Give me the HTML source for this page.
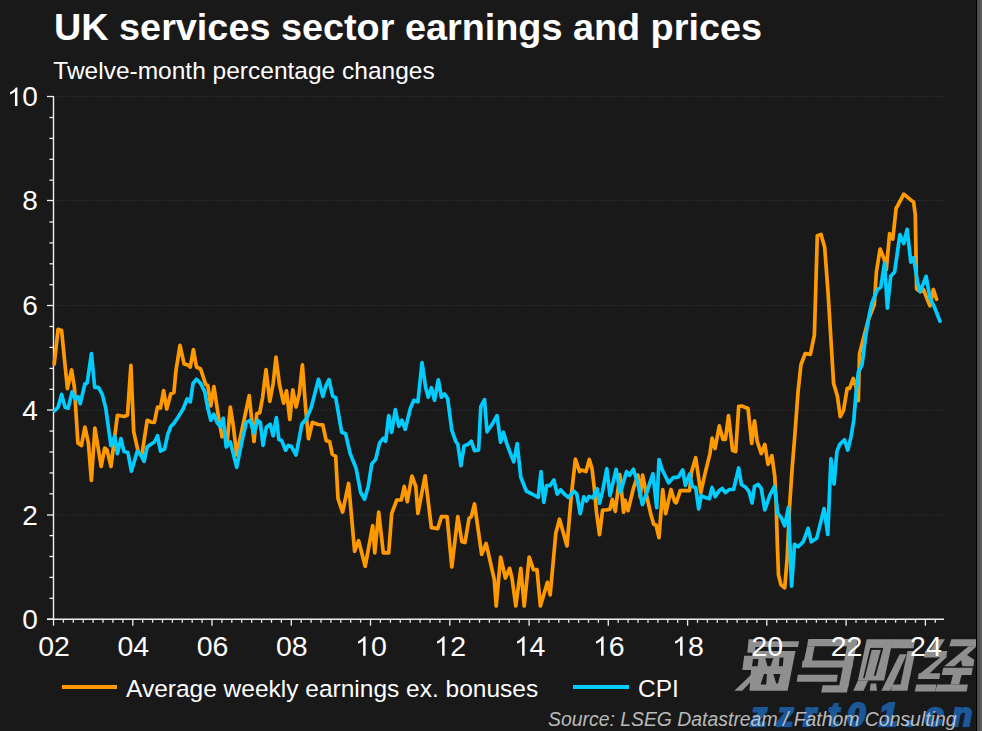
<!DOCTYPE html>
<html><head><meta charset="utf-8"><style>
html,body{margin:0;padding:0;}
body{width:982px;height:731px;background:#191919;position:relative;overflow:hidden;font-family:"Liberation Sans",sans-serif;color:#fff;}
.t{position:absolute;white-space:nowrap;}
#title{left:54px;top:3.8px;font-size:37.8px;font-weight:bold;line-height:46px;}
#sub{left:53.3px;top:56px;font-size:24.5px;line-height:30px;}
.yl{position:absolute;left:0;width:37.8px;text-align:right;font-size:28px;line-height:32px;}
.xl{position:absolute;top:629px;width:60px;text-align:center;font-size:28.5px;line-height:34px;}
svg.full{position:absolute;left:0;top:0;}
.one{width:0.556em;height:0.7324em;vertical-align:baseline;display:inline-block;}
.leg{position:absolute;font-size:24.5px;line-height:28px;top:674.8px;}
.sw{position:absolute;height:4px;top:684.5px;}
#src{position:absolute;left:548px;top:707px;font-size:19.4px;font-style:italic;color:#d4d4d4;line-height:24px;white-space:nowrap;opacity:0.86}
#edge{position:absolute;left:976px;top:0;width:1px;height:731px;background:#000;}
#strip{position:absolute;left:977px;top:0;width:5px;height:731px;background:linear-gradient(to right,#474747,#5f5f5f);}
</style></head><body>
<svg class="full" width="982" height="731">
<line x1="57" y1="515" x2="944" y2="515" stroke="#2e3838" stroke-width="1.2" stroke-dasharray="1.2 1.8"/><line x1="57" y1="410" x2="944" y2="410" stroke="#2e3838" stroke-width="1.2" stroke-dasharray="1.2 1.8"/><line x1="57" y1="305.5" x2="944" y2="305.5" stroke="#2e3838" stroke-width="1.2" stroke-dasharray="1.2 1.8"/><line x1="57" y1="200.5" x2="944" y2="200.5" stroke="#2e3838" stroke-width="1.2" stroke-dasharray="1.2 1.8"/><line x1="57" y1="96.5" x2="944" y2="96.5" stroke="#2e3838" stroke-width="1.2" stroke-dasharray="1.2 1.8"/><line x1="53.5" y1="96" x2="53.5" y2="620" stroke="#f0f0f0" stroke-width="1.4"/><line x1="47" y1="619.2" x2="53.5" y2="619.2" stroke="#f0f0f0" stroke-width="1.3"/><line x1="49.5" y1="598.3" x2="53.5" y2="598.3" stroke="#f0f0f0" stroke-width="1.3"/><line x1="49.5" y1="577.4" x2="53.5" y2="577.4" stroke="#f0f0f0" stroke-width="1.3"/><line x1="49.5" y1="556.5" x2="53.5" y2="556.5" stroke="#f0f0f0" stroke-width="1.3"/><line x1="49.5" y1="535.6" x2="53.5" y2="535.6" stroke="#f0f0f0" stroke-width="1.3"/><line x1="47" y1="515.0" x2="53.5" y2="515.0" stroke="#f0f0f0" stroke-width="1.3"/><line x1="49.5" y1="493.8" x2="53.5" y2="493.8" stroke="#f0f0f0" stroke-width="1.3"/><line x1="49.5" y1="472.9" x2="53.5" y2="472.9" stroke="#f0f0f0" stroke-width="1.3"/><line x1="49.5" y1="452.0" x2="53.5" y2="452.0" stroke="#f0f0f0" stroke-width="1.3"/><line x1="49.5" y1="431.1" x2="53.5" y2="431.1" stroke="#f0f0f0" stroke-width="1.3"/><line x1="47" y1="410.0" x2="53.5" y2="410.0" stroke="#f0f0f0" stroke-width="1.3"/><line x1="49.5" y1="389.3" x2="53.5" y2="389.3" stroke="#f0f0f0" stroke-width="1.3"/><line x1="49.5" y1="368.4" x2="53.5" y2="368.4" stroke="#f0f0f0" stroke-width="1.3"/><line x1="49.5" y1="347.4" x2="53.5" y2="347.4" stroke="#f0f0f0" stroke-width="1.3"/><line x1="49.5" y1="326.5" x2="53.5" y2="326.5" stroke="#f0f0f0" stroke-width="1.3"/><line x1="47" y1="305.5" x2="53.5" y2="305.5" stroke="#f0f0f0" stroke-width="1.3"/><line x1="49.5" y1="284.7" x2="53.5" y2="284.7" stroke="#f0f0f0" stroke-width="1.3"/><line x1="49.5" y1="263.8" x2="53.5" y2="263.8" stroke="#f0f0f0" stroke-width="1.3"/><line x1="49.5" y1="242.9" x2="53.5" y2="242.9" stroke="#f0f0f0" stroke-width="1.3"/><line x1="49.5" y1="222.0" x2="53.5" y2="222.0" stroke="#f0f0f0" stroke-width="1.3"/><line x1="47" y1="200.5" x2="53.5" y2="200.5" stroke="#f0f0f0" stroke-width="1.3"/><line x1="49.5" y1="180.2" x2="53.5" y2="180.2" stroke="#f0f0f0" stroke-width="1.3"/><line x1="49.5" y1="159.3" x2="53.5" y2="159.3" stroke="#f0f0f0" stroke-width="1.3"/><line x1="49.5" y1="138.4" x2="53.5" y2="138.4" stroke="#f0f0f0" stroke-width="1.3"/><line x1="49.5" y1="117.5" x2="53.5" y2="117.5" stroke="#f0f0f0" stroke-width="1.3"/><line x1="47" y1="96.5" x2="53.5" y2="96.5" stroke="#f0f0f0" stroke-width="1.3"/><line x1="47" y1="619.2" x2="944" y2="619.2" stroke="#f0f0f0" stroke-width="1.5"/><line x1="53.5" y1="619.2" x2="53.5" y2="625.7" stroke="#f0f0f0" stroke-width="1.3"/><line x1="63.4" y1="619.2" x2="63.4" y2="622.7" stroke="#f0f0f0" stroke-width="1.3"/><line x1="73.3" y1="619.2" x2="73.3" y2="622.7" stroke="#f0f0f0" stroke-width="1.3"/><line x1="83.2" y1="619.2" x2="83.2" y2="622.7" stroke="#f0f0f0" stroke-width="1.3"/><line x1="93.1" y1="619.2" x2="93.1" y2="622.7" stroke="#f0f0f0" stroke-width="1.3"/><line x1="103.0" y1="619.2" x2="103.0" y2="622.7" stroke="#f0f0f0" stroke-width="1.3"/><line x1="112.9" y1="619.2" x2="112.9" y2="622.7" stroke="#f0f0f0" stroke-width="1.3"/><line x1="122.9" y1="619.2" x2="122.9" y2="622.7" stroke="#f0f0f0" stroke-width="1.3"/><line x1="132.8" y1="619.2" x2="132.8" y2="625.7" stroke="#f0f0f0" stroke-width="1.3"/><line x1="142.7" y1="619.2" x2="142.7" y2="622.7" stroke="#f0f0f0" stroke-width="1.3"/><line x1="152.6" y1="619.2" x2="152.6" y2="622.7" stroke="#f0f0f0" stroke-width="1.3"/><line x1="162.5" y1="619.2" x2="162.5" y2="622.7" stroke="#f0f0f0" stroke-width="1.3"/><line x1="172.4" y1="619.2" x2="172.4" y2="622.7" stroke="#f0f0f0" stroke-width="1.3"/><line x1="182.3" y1="619.2" x2="182.3" y2="622.7" stroke="#f0f0f0" stroke-width="1.3"/><line x1="192.2" y1="619.2" x2="192.2" y2="622.7" stroke="#f0f0f0" stroke-width="1.3"/><line x1="202.1" y1="619.2" x2="202.1" y2="622.7" stroke="#f0f0f0" stroke-width="1.3"/><line x1="212.0" y1="619.2" x2="212.0" y2="625.7" stroke="#f0f0f0" stroke-width="1.3"/><line x1="221.9" y1="619.2" x2="221.9" y2="622.7" stroke="#f0f0f0" stroke-width="1.3"/><line x1="231.8" y1="619.2" x2="231.8" y2="622.7" stroke="#f0f0f0" stroke-width="1.3"/><line x1="241.7" y1="619.2" x2="241.7" y2="622.7" stroke="#f0f0f0" stroke-width="1.3"/><line x1="251.7" y1="619.2" x2="251.7" y2="622.7" stroke="#f0f0f0" stroke-width="1.3"/><line x1="261.6" y1="619.2" x2="261.6" y2="622.7" stroke="#f0f0f0" stroke-width="1.3"/><line x1="271.5" y1="619.2" x2="271.5" y2="622.7" stroke="#f0f0f0" stroke-width="1.3"/><line x1="281.4" y1="619.2" x2="281.4" y2="622.7" stroke="#f0f0f0" stroke-width="1.3"/><line x1="291.3" y1="619.2" x2="291.3" y2="625.7" stroke="#f0f0f0" stroke-width="1.3"/><line x1="301.2" y1="619.2" x2="301.2" y2="622.7" stroke="#f0f0f0" stroke-width="1.3"/><line x1="311.1" y1="619.2" x2="311.1" y2="622.7" stroke="#f0f0f0" stroke-width="1.3"/><line x1="321.0" y1="619.2" x2="321.0" y2="622.7" stroke="#f0f0f0" stroke-width="1.3"/><line x1="330.9" y1="619.2" x2="330.9" y2="622.7" stroke="#f0f0f0" stroke-width="1.3"/><line x1="340.8" y1="619.2" x2="340.8" y2="622.7" stroke="#f0f0f0" stroke-width="1.3"/><line x1="350.7" y1="619.2" x2="350.7" y2="622.7" stroke="#f0f0f0" stroke-width="1.3"/><line x1="360.6" y1="619.2" x2="360.6" y2="622.7" stroke="#f0f0f0" stroke-width="1.3"/><line x1="370.5" y1="619.2" x2="370.5" y2="625.7" stroke="#f0f0f0" stroke-width="1.3"/><line x1="380.4" y1="619.2" x2="380.4" y2="622.7" stroke="#f0f0f0" stroke-width="1.3"/><line x1="390.4" y1="619.2" x2="390.4" y2="622.7" stroke="#f0f0f0" stroke-width="1.3"/><line x1="400.3" y1="619.2" x2="400.3" y2="622.7" stroke="#f0f0f0" stroke-width="1.3"/><line x1="410.2" y1="619.2" x2="410.2" y2="622.7" stroke="#f0f0f0" stroke-width="1.3"/><line x1="420.1" y1="619.2" x2="420.1" y2="622.7" stroke="#f0f0f0" stroke-width="1.3"/><line x1="430.0" y1="619.2" x2="430.0" y2="622.7" stroke="#f0f0f0" stroke-width="1.3"/><line x1="439.9" y1="619.2" x2="439.9" y2="622.7" stroke="#f0f0f0" stroke-width="1.3"/><line x1="449.8" y1="619.2" x2="449.8" y2="625.7" stroke="#f0f0f0" stroke-width="1.3"/><line x1="459.7" y1="619.2" x2="459.7" y2="622.7" stroke="#f0f0f0" stroke-width="1.3"/><line x1="469.6" y1="619.2" x2="469.6" y2="622.7" stroke="#f0f0f0" stroke-width="1.3"/><line x1="479.5" y1="619.2" x2="479.5" y2="622.7" stroke="#f0f0f0" stroke-width="1.3"/><line x1="489.4" y1="619.2" x2="489.4" y2="622.7" stroke="#f0f0f0" stroke-width="1.3"/><line x1="499.3" y1="619.2" x2="499.3" y2="622.7" stroke="#f0f0f0" stroke-width="1.3"/><line x1="509.2" y1="619.2" x2="509.2" y2="622.7" stroke="#f0f0f0" stroke-width="1.3"/><line x1="519.2" y1="619.2" x2="519.2" y2="622.7" stroke="#f0f0f0" stroke-width="1.3"/><line x1="529.1" y1="619.2" x2="529.1" y2="625.7" stroke="#f0f0f0" stroke-width="1.3"/><line x1="539.0" y1="619.2" x2="539.0" y2="622.7" stroke="#f0f0f0" stroke-width="1.3"/><line x1="548.9" y1="619.2" x2="548.9" y2="622.7" stroke="#f0f0f0" stroke-width="1.3"/><line x1="558.8" y1="619.2" x2="558.8" y2="622.7" stroke="#f0f0f0" stroke-width="1.3"/><line x1="568.7" y1="619.2" x2="568.7" y2="622.7" stroke="#f0f0f0" stroke-width="1.3"/><line x1="578.6" y1="619.2" x2="578.6" y2="622.7" stroke="#f0f0f0" stroke-width="1.3"/><line x1="588.5" y1="619.2" x2="588.5" y2="622.7" stroke="#f0f0f0" stroke-width="1.3"/><line x1="598.4" y1="619.2" x2="598.4" y2="622.7" stroke="#f0f0f0" stroke-width="1.3"/><line x1="608.3" y1="619.2" x2="608.3" y2="625.7" stroke="#f0f0f0" stroke-width="1.3"/><line x1="618.2" y1="619.2" x2="618.2" y2="622.7" stroke="#f0f0f0" stroke-width="1.3"/><line x1="628.1" y1="619.2" x2="628.1" y2="622.7" stroke="#f0f0f0" stroke-width="1.3"/><line x1="638.0" y1="619.2" x2="638.0" y2="622.7" stroke="#f0f0f0" stroke-width="1.3"/><line x1="648.0" y1="619.2" x2="648.0" y2="622.7" stroke="#f0f0f0" stroke-width="1.3"/><line x1="657.9" y1="619.2" x2="657.9" y2="622.7" stroke="#f0f0f0" stroke-width="1.3"/><line x1="667.8" y1="619.2" x2="667.8" y2="622.7" stroke="#f0f0f0" stroke-width="1.3"/><line x1="677.7" y1="619.2" x2="677.7" y2="622.7" stroke="#f0f0f0" stroke-width="1.3"/><line x1="687.6" y1="619.2" x2="687.6" y2="625.7" stroke="#f0f0f0" stroke-width="1.3"/><line x1="697.5" y1="619.2" x2="697.5" y2="622.7" stroke="#f0f0f0" stroke-width="1.3"/><line x1="707.4" y1="619.2" x2="707.4" y2="622.7" stroke="#f0f0f0" stroke-width="1.3"/><line x1="717.3" y1="619.2" x2="717.3" y2="622.7" stroke="#f0f0f0" stroke-width="1.3"/><line x1="727.2" y1="619.2" x2="727.2" y2="622.7" stroke="#f0f0f0" stroke-width="1.3"/><line x1="737.1" y1="619.2" x2="737.1" y2="622.7" stroke="#f0f0f0" stroke-width="1.3"/><line x1="747.0" y1="619.2" x2="747.0" y2="622.7" stroke="#f0f0f0" stroke-width="1.3"/><line x1="756.9" y1="619.2" x2="756.9" y2="622.7" stroke="#f0f0f0" stroke-width="1.3"/><line x1="766.8" y1="619.2" x2="766.8" y2="625.7" stroke="#f0f0f0" stroke-width="1.3"/><line x1="776.7" y1="619.2" x2="776.7" y2="622.7" stroke="#f0f0f0" stroke-width="1.3"/><line x1="786.7" y1="619.2" x2="786.7" y2="622.7" stroke="#f0f0f0" stroke-width="1.3"/><line x1="796.6" y1="619.2" x2="796.6" y2="622.7" stroke="#f0f0f0" stroke-width="1.3"/><line x1="806.5" y1="619.2" x2="806.5" y2="622.7" stroke="#f0f0f0" stroke-width="1.3"/><line x1="816.4" y1="619.2" x2="816.4" y2="622.7" stroke="#f0f0f0" stroke-width="1.3"/><line x1="826.3" y1="619.2" x2="826.3" y2="622.7" stroke="#f0f0f0" stroke-width="1.3"/><line x1="836.2" y1="619.2" x2="836.2" y2="622.7" stroke="#f0f0f0" stroke-width="1.3"/><line x1="846.1" y1="619.2" x2="846.1" y2="625.7" stroke="#f0f0f0" stroke-width="1.3"/><line x1="856.0" y1="619.2" x2="856.0" y2="622.7" stroke="#f0f0f0" stroke-width="1.3"/><line x1="865.9" y1="619.2" x2="865.9" y2="622.7" stroke="#f0f0f0" stroke-width="1.3"/><line x1="875.8" y1="619.2" x2="875.8" y2="622.7" stroke="#f0f0f0" stroke-width="1.3"/><line x1="885.7" y1="619.2" x2="885.7" y2="622.7" stroke="#f0f0f0" stroke-width="1.3"/><line x1="895.6" y1="619.2" x2="895.6" y2="622.7" stroke="#f0f0f0" stroke-width="1.3"/><line x1="905.5" y1="619.2" x2="905.5" y2="622.7" stroke="#f0f0f0" stroke-width="1.3"/><line x1="915.5" y1="619.2" x2="915.5" y2="622.7" stroke="#f0f0f0" stroke-width="1.3"/><line x1="925.4" y1="619.2" x2="925.4" y2="625.7" stroke="#f0f0f0" stroke-width="1.3"/><line x1="935.3" y1="619.2" x2="935.3" y2="622.7" stroke="#f0f0f0" stroke-width="1.3"/><polyline points="54.2,364.0 58.1,329.3 61.6,330.5 67.4,388.6 71.6,370.0 74.4,387.4 77.9,443.0 81.4,445.6 84.9,427.0 88.4,443.0 91.4,480.5 94.9,428.0 101.2,466.5 104.7,448.0 107.0,450.0 111.0,466.5 117.4,415.3 124.4,416.5 127.5,415.0 130.9,365.3 133.7,431.6 138.4,452.6 141.9,455.0 147.2,420.3 151.0,422.0 154.4,422.4 157.5,407.0 160.5,408.0 163.6,390.6 166.7,409.0 170.8,393.7 173.9,392.6 175.9,371.0 180.0,345.4 184.1,363.9 188.0,365.0 190.3,367.0 193.4,349.5 196.5,367.0 200.6,369.0 205.7,384.4 207.8,385.4 210.8,406.0 213.9,386.5 219.0,420.3 222.1,436.8 225.2,432.7 227.3,440.9 230.3,407.0 233.4,426.5 236.7,455.0 243.0,425.0 249.2,395.6 254.0,441.5 256.8,413.8 259.7,412.8 262.6,397.5 266.0,369.7 269.8,401.3 273.1,384.0 276.0,357.2 279.4,384.0 283.6,403.2 286.5,390.8 289.8,419.5 292.8,389.8 296.1,407.0 299.3,393.6 302.4,364.9 305.7,409.0 308.5,438.7 312.4,422.4 318.1,424.5 322.8,424.8 326.2,440.6 329.6,441.5 332.3,454.3 335.7,456.4 338.0,498.6 342.6,512.1 348.6,483.5 354.6,551.3 358.6,540.7 365.2,566.3 372.7,525.7 374.8,552.8 378.7,512.1 383.3,552.8 388.7,552.8 391.7,513.6 396.8,500.0 401.3,500.0 404.3,486.5 407.3,501.6 411.9,476.0 415.8,486.5 417.9,513.5 425.1,475.8 431.4,527.7 437.7,528.6 441.4,516.7 447.1,516.7 451.8,567.0 457.8,516.7 461.9,541.8 465.0,542.5 469.1,518.2 471.3,516.7 474.5,504.0 481.7,554.4 486.1,543.4 494.3,579.6 496.2,606.0 500.6,557.0 505.4,578.0 509.6,568.3 512.0,578.0 515.8,606.0 520.8,568.3 524.2,606.0 529.2,557.0 533.4,569.7 537.0,569.7 540.4,606.0 547.4,582.3 550.2,594.9 555.8,533.2 559.5,519.2 567.0,545.9 571.2,496.8 575.4,459.0 579.6,471.6 581.5,470.0 586.0,471.6 589.3,459.5 592.0,468.6 594.3,488.1 596.5,512.2 599.5,534.7 602.6,510.0 606.3,510.0 610.0,509.2 612.3,499.4 615.3,511.4 619.8,474.6 623.6,512.2 625.0,500.0 628.0,510.7 633.5,488.0 637.9,475.1 640.2,497.0 642.6,475.1 647.2,498.4 650.7,513.7 653.7,524.2 656.0,525.0 659.0,537.7 662.7,489.6 665.7,513.7 671.0,489.6 674.7,501.7 676.2,502.9 680.3,490.6 689.5,490.6 691.5,472.1 695.7,457.7 700.8,492.6 704.9,474.1 710.0,453.6 712.1,438.2 715.1,448.5 719.3,425.9 722.9,439.3 725.4,439.3 728.5,415.7 732.6,450.5 735.7,451.6 738.7,406.4 741.8,406.0 748.0,408.5 751.7,443.4 754.5,420.8 757.2,441.3 761.3,453.6 764.8,444.4 768.0,464.3 771.9,455.7 774.8,476.6 776.1,501.2 777.3,543.1 778.5,575.0 781.0,584.9 784.7,587.9 787.2,557.8 789.6,506.2 792.1,469.2 794.5,439.7 798.0,392.3 800.9,365.0 805.2,353.5 810.4,354.4 814.4,334.9 817.3,235.8 821.0,234.4 824.7,247.3 828.2,294.7 833.6,383.4 837.3,395.8 840.3,416.7 843.5,410.5 847.2,388.4 849.6,388.4 853.3,378.5 855.8,385.9 858.3,400.7 859.5,353.9 862.0,344.0 868.1,320.6 874.3,304.6 876.4,272.0 880.1,249.0 884.1,258.8 886.3,269.8 889.6,233.6 892.8,239.1 896.1,208.5 903.8,194.2 910.4,199.7 913.6,201.9 915.3,215.0 916.6,289.0 920.4,291.6 923.5,289.5 926.8,298.2 930.0,305.9 933.4,289.5 936.6,299.3" fill="none" stroke="#ff9900" stroke-width="3.7" stroke-linejoin="round" stroke-linecap="round"/><polyline points="54.7,410.7 58.1,407.2 61.6,394.4 65.1,407.2 68.1,408.4 72.1,392.0 75.6,399.0 77.9,396.7 80.2,403.7 84.9,384.0 87.2,382.8 91.4,353.7 94.7,387.4 98.4,387.4 102.3,394.4 105.8,408.4 110.9,445.6 114.7,436.3 117.4,453.7 120.9,438.6 123.9,451.4 127.9,452.6 131.4,471.2 137.2,451.4 140.7,454.9 144.1,461.4 147.2,447.0 151.3,444.0 154.4,442.0 157.5,435.7 160.5,451.1 164.6,449.0 167.7,434.7 170.8,426.5 173.9,423.4 178.0,417.3 183.1,409.0 187.2,398.8 190.3,401.9 193.0,383.4 196.5,379.3 200.6,383.4 204.7,391.6 207.8,408.0 210.8,420.3 213.9,414.2 217.0,422.4 220.1,426.5 223.2,418.3 226.2,447.0 230.3,441.9 236.7,467.4 241.5,443.4 246.3,422.4 250.1,420.5 253.9,432.9 257.8,420.5 260.3,422.4 263.0,445.4 266.4,427.2 270.2,424.3 273.1,435.8 276.4,417.6 278.9,439.6 281.7,440.6 285.6,450.2 288.4,445.4 291.3,446.3 296.1,455.0 301.8,424.3 306.6,418.5 311.4,407.0 318.5,379.3 322.9,396.5 325.8,386.0 329.0,379.6 332.7,396.1 335.7,397.6 341.7,432.3 345.6,433.8 350.1,453.4 356.1,468.4 360.7,492.5 364.6,499.2 368.2,486.5 371.8,463.9 375.7,459.4 379.6,442.8 383.3,438.3 385.7,441.3 388.7,415.7 391.7,432.3 395.3,409.7 398.9,426.3 401.9,420.2 405.2,429.3 410.4,408.2 413.8,400.3 417.9,401.9 422.0,362.6 425.7,387.7 428.2,397.2 431.4,387.7 434.5,400.3 438.3,379.9 441.4,397.2 444.6,394.0 447.7,398.7 451.8,430.2 455.6,441.2 457.8,444.3 460.9,465.7 464.1,445.9 468.2,444.3 471.3,441.2 474.5,450.6 478.6,450.0 480.8,406.6 484.5,399.7 487.0,431.8 492.4,423.9 497.0,415.6 500.6,442.2 503.4,432.4 506.8,443.6 511.0,454.8 513.8,461.8 517.2,443.6 520.8,477.2 526.4,491.2 532.0,494.0 538.2,497.4 541.0,471.6 543.8,502.4 546.6,485.6 550.0,485.6 553.9,480.0 557.2,494.0 560.6,489.8 564.2,494.0 568.4,497.4 574.0,491.2 576.8,494.0 580.2,513.6 583.8,496.8 586.6,501.0 589.0,496.4 592.8,497.9 597.3,488.9 599.5,503.2 602.6,491.1 606.8,468.6 610.0,495.6 616.1,469.3 620.3,492.6 626.6,471.6 629.6,475.3 633.4,469.3 637.9,483.6 642.4,504.7 646.2,494.1 652.9,473.8 656.7,507.7 659.0,459.5 662.0,469.3 668.7,482.9 673.2,477.6 678.2,477.2 682.7,470.0 685.4,485.4 689.5,474.1 692.2,486.4 695.7,487.5 698.7,509.0 701.2,495.7 705.9,497.7 709.4,498.8 712.1,487.5 715.1,496.7 719.3,490.6 722.3,488.5 725.4,492.6 729.5,489.5 733.6,489.5 738.7,468.0 741.4,484.4 745.9,487.5 749.0,491.6 752.1,502.9 754.5,486.4 758.2,484.4 761.3,488.5 764.8,510.0 769.9,495.1 774.4,486.5 777.8,513.5 781.0,517.2 784.7,525.8 788.4,507.4 791.6,586.2 794.5,544.3 798.2,546.8 803.2,541.8 808.1,528.3 811.3,541.8 816.7,538.2 824.1,508.6 827.8,534.5 830.9,458.8 834.1,484.0 836.9,451.7 839.6,444.6 844.5,439.7 847.8,450.1 851.1,436.4 853.8,420.0 855.8,395.8 858.3,372.4 862.0,365.0 865.6,336.7 869.3,314.5 872.0,302.6 877.5,289.5 880.8,287.3 884.5,263.2 887.4,308.1 890.7,276.3 894.6,272.0 899.9,234.7 903.8,243.5 907.1,229.3 910.8,262.1 913.6,257.7 917.4,281.8 920.2,291.7 926.1,276.3 930.0,298.2 934.4,307.0 939.9,321.2" fill="none" stroke="#00ccff" stroke-width="3.7" stroke-linejoin="round" stroke-linecap="round"/>
</svg>
<svg class="full" width="982" height="731"><polygon points="748.6,639.2 756.0,639.2 755.0,652.7 747.3,652.7" fill="#8f8f8f"/><polygon points="755.0,641.2 799.1,641.2 798.0,647.1 754.0,647.1" fill="#8f8f8f"/><polygon points="752.5,651.1 795.5,651.1 787.6,690.8 749.5,690.8" fill="#8f8f8f"/><polygon points="744.2,655.8 753.5,655.8 751.8,670.1 742.4,670.1" fill="#8f8f8f"/><polygon points="734.4,690.8 742.3,690.8 758.2,674.1 751.8,674.1" fill="#8f8f8f"/><polygon points="808.3,639.1 857.2,639.1 856.3,646.2 807.0,646.2" fill="#8f8f8f"/><polygon points="807.0,646.2 814.6,646.2 811.9,661.3 803.9,661.3" fill="#8f8f8f"/><polygon points="802.6,660.4 853.2,660.4 852.3,667.6 801.7,667.6" fill="#8f8f8f"/><polygon points="848.3,639.1 857.7,639.1 848.3,687.1 839.0,687.1" fill="#8f8f8f"/><polygon points="797.7,674.7 837.7,674.7 836.8,681.8 796.8,681.8" fill="#8f8f8f"/><polygon points="822.6,685.3 848.3,685.3 847.0,692.4 821.2,692.4" fill="#8f8f8f"/><polygon points="866.7,639.2 892.9,639.2 884.1,680.4 857.9,680.4" fill="#8f8f8f"/><polygon points="857.9,680.4 868.3,680.4 863.5,690.8 853.2,690.8" fill="#8f8f8f"/><polygon points="870.6,683.6 876.2,683.6 877.0,690.8 869.8,690.8" fill="#8f8f8f"/><polygon points="892.2,639.2 915.0,639.2 913.6,648.2 890.8,648.2" fill="#8f8f8f"/><polygon points="899.6,654.3 906.7,654.3 890.1,690.8 881.3,690.8" fill="#8f8f8f"/><polygon points="907.5,651.1 915.5,651.1 908.3,685.2 900.4,685.2" fill="#8f8f8f"/><polygon points="892.5,684.4 908.3,684.4 907.5,690.8 890.9,690.8" fill="#8f8f8f"/><polygon points="937.0,639.2 944.9,639.2 937.8,651.1 929.8,651.1" fill="#8f8f8f"/><polygon points="925.1,651.1 947.3,651.1 946.1,657.4 923.9,657.4" fill="#8f8f8f"/><polygon points="941.3,656.6 947.3,656.6 929.0,674.1 919.5,674.1" fill="#8f8f8f"/><polygon points="918.7,673.3 940.2,673.3 939.4,678.9 917.9,678.9" fill="#8f8f8f"/><polygon points="916.3,684.4 936.2,684.4 935.4,691.6 914.8,691.6" fill="#8f8f8f"/><polygon points="951.3,639.2 977.0,639.2 975.9,646.3 949.3,646.3" fill="#8f8f8f"/><polygon points="968.7,646.3 976.7,646.3 954.4,666.2 944.1,666.2" fill="#8f8f8f"/><polygon points="960.0,655.0 967.1,655.0 974.3,659.8 973.5,666.2 962.4,666.2" fill="#8f8f8f"/><polygon points="943.3,667.7 972.7,667.7 971.5,674.9 941.7,674.9" fill="#8f8f8f"/><polygon points="952.9,674.9 961.6,674.9 959.2,684.4 950.5,684.4" fill="#8f8f8f"/><polygon points="937.0,684.4 967.9,684.4 966.7,691.6 935.4,691.6" fill="#8f8f8f"/><polygon points="753.0,659.0 758.5,659.0 757.5,666.2 752.0,666.2" fill="#191919"/><polygon points="765.3,658.2 773.3,658.2 770.5,666.2 767.5,666.2" fill="#191919"/><polygon points="779.6,657.4 783.6,657.4 782.8,666.2 778.8,666.2" fill="#191919"/><polygon points="764.0,674.1 766.9,674.1 766.2,684.4 760.6,684.4" fill="#191919"/><polygon points="773.3,674.1 780.4,674.1 778.0,683.6 776.2,683.6" fill="#191919"/><polygon points="871.4,647.9 882.5,647.9 882.5,649.9 871.4,649.9" fill="#191919"/><polygon points="870.2,647.9 872.2,647.9 864.7,678.1 863.1,678.1" fill="#191919"/><polygon points="881.3,647.9 883.3,647.9 875.8,675.7 873.8,675.7" fill="#191919"/>
<g font-family="Liberation Sans" font-weight="bold" font-style="italic" font-size="33"><text x="752.2" y="727.2" fill="#0d1e2e" stroke="#0d1e2e" stroke-width="2.2">z</text><text x="778.6" y="727.2" fill="#0d1e2e" stroke="#0d1e2e" stroke-width="2.2">z</text><text x="804.6" y="727.2" fill="#0d1e2e" stroke="#0d1e2e" stroke-width="2.2">r</text><text x="829.6" y="727.2" fill="#0d1e2e" stroke="#0d1e2e" stroke-width="2.2">t</text><text x="848.6" y="727.2" fill="#0d1e2e" stroke="#0d1e2e" stroke-width="2.2">0</text><text x="880.6" y="727.2" fill="#0d1e2e" stroke="#0d1e2e" stroke-width="2.2">1</text><text x="907.6" y="727.2" fill="#0d1e2e" stroke="#0d1e2e" stroke-width="2.2">.</text><text x="926.6" y="727.2" fill="#0d1e2e" stroke="#0d1e2e" stroke-width="2.2">c</text><text x="953.6" y="727.2" fill="#0d1e2e" stroke="#0d1e2e" stroke-width="2.2">n</text><text x="750.6" y="725.5" fill="#1c5898" stroke="#1c5898" stroke-width="2.2">z</text><text x="777" y="725.5" fill="#1c5898" stroke="#1c5898" stroke-width="2.2">z</text><text x="803" y="725.5" fill="#1c5898" stroke="#1c5898" stroke-width="2.2">r</text><text x="828" y="725.5" fill="#1c5898" stroke="#1c5898" stroke-width="2.2">t</text><text x="847" y="725.5" fill="#1c5898" stroke="#1c5898" stroke-width="2.2">0</text><text x="879" y="725.5" fill="#1c5898" stroke="#1c5898" stroke-width="2.2">1</text><text x="906" y="725.5" fill="#1c5898" stroke="#1c5898" stroke-width="2.2">.</text><text x="925" y="725.5" fill="#1c5898" stroke="#1c5898" stroke-width="2.2">c</text><text x="952" y="725.5" fill="#1c5898" stroke="#1c5898" stroke-width="2.2">n</text></g></svg>
<div class="t" id="title">UK services sector earnings and prices</div>
<div class="t" id="sub">Twelve-month percentage changes</div>
<div class="yl" style="top:81.3px"><svg class="one" viewBox="0 -1500 1139 1500"><path transform="scale(1,-0.946)" d="M763,0 L583,0 L583,1147 Q518,1085 412,1023 Q306,961 222,930 L222,1104 Q373,1175 486,1276 Q599,1377 646,1472 L763,1472 Z" fill="#fff"/></svg>0</div><div class="yl" style="top:185.3px">8</div><div class="yl" style="top:290.3px">6</div><div class="yl" style="top:394.8px">4</div><div class="yl" style="top:499.8px">2</div><div class="yl" style="top:604.0px">0</div>
<div class="xl" style="left:24.0px">02</div><div class="xl" style="left:103.3px">04</div><div class="xl" style="left:182.5px">06</div><div class="xl" style="left:261.8px">08</div><div class="xl" style="left:341.0px"><svg class="one" viewBox="0 -1500 1139 1500"><path transform="scale(1,-0.946)" d="M763,0 L583,0 L583,1147 Q518,1085 412,1023 Q306,961 222,930 L222,1104 Q373,1175 486,1276 Q599,1377 646,1472 L763,1472 Z" fill="#fff"/></svg>0</div><div class="xl" style="left:420.3px"><svg class="one" viewBox="0 -1500 1139 1500"><path transform="scale(1,-0.946)" d="M763,0 L583,0 L583,1147 Q518,1085 412,1023 Q306,961 222,930 L222,1104 Q373,1175 486,1276 Q599,1377 646,1472 L763,1472 Z" fill="#fff"/></svg>2</div><div class="xl" style="left:499.6px"><svg class="one" viewBox="0 -1500 1139 1500"><path transform="scale(1,-0.946)" d="M763,0 L583,0 L583,1147 Q518,1085 412,1023 Q306,961 222,930 L222,1104 Q373,1175 486,1276 Q599,1377 646,1472 L763,1472 Z" fill="#fff"/></svg>4</div><div class="xl" style="left:578.8px"><svg class="one" viewBox="0 -1500 1139 1500"><path transform="scale(1,-0.946)" d="M763,0 L583,0 L583,1147 Q518,1085 412,1023 Q306,961 222,930 L222,1104 Q373,1175 486,1276 Q599,1377 646,1472 L763,1472 Z" fill="#fff"/></svg>6</div><div class="xl" style="left:658.1px"><svg class="one" viewBox="0 -1500 1139 1500"><path transform="scale(1,-0.946)" d="M763,0 L583,0 L583,1147 Q518,1085 412,1023 Q306,961 222,930 L222,1104 Q373,1175 486,1276 Q599,1377 646,1472 L763,1472 Z" fill="#fff"/></svg>8</div><div class="xl" style="left:737.3px">20</div><div class="xl" style="left:816.6px">22</div><div class="xl" style="left:895.9px">24</div>
<div class="sw" style="left:61.7px;width:55.4px;background:#ff9900"></div>
<div class="leg t" style="left:126px">Average weekly earnings ex. bonuses</div>
<div class="sw" style="left:573px;width:56px;background:#00ccff"></div>
<div class="leg t" style="left:638px">CPI</div>
<div id="src">Source: LSEG Datastream / Fathom Consulting</div>
<div id="edge"></div><div id="strip"></div>
</body></html>
